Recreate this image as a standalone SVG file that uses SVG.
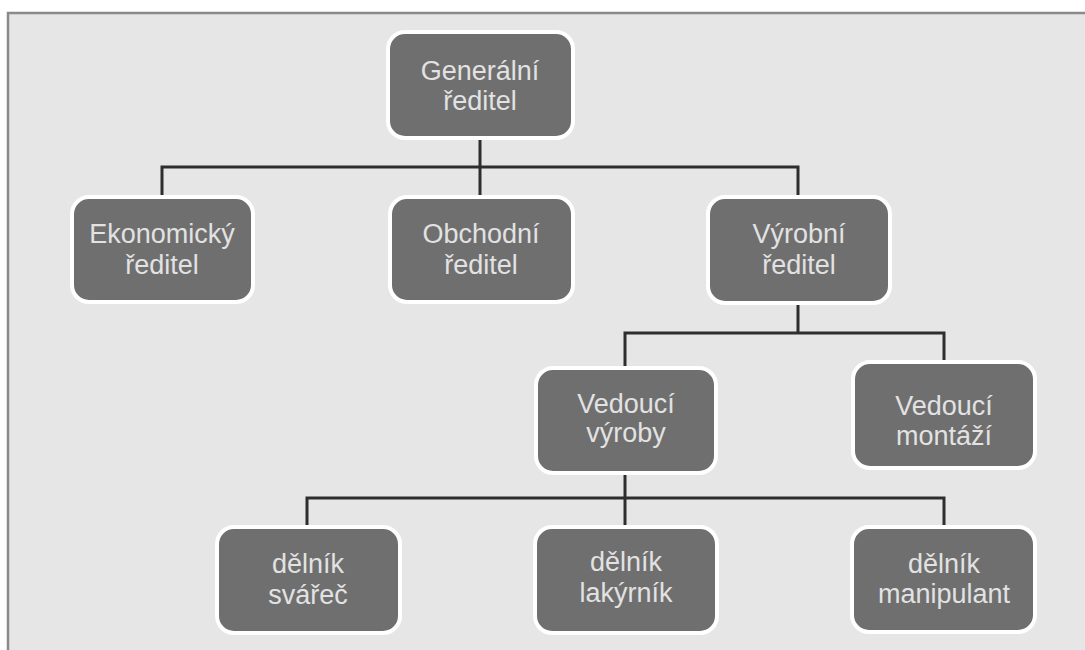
<svg xmlns="http://www.w3.org/2000/svg" width="1085" height="650" viewBox="0 0 1085 650">
<style>
.box{fill:#6f6f6f;stroke:#ffffff;stroke-width:4}
.t{font-family:"Liberation Sans",Arial,sans-serif;font-size:27px;fill:#e2e2e2;text-anchor:middle}
.c{fill:none;stroke:#2e2e2e;stroke-width:3}
</style>
<rect x="0" y="0" width="1085" height="650" fill="#ffffff"/>
<rect x="8" y="13" width="1090" height="660" fill="#e6e6e6" stroke="#8a8a8a" stroke-width="2.5"/>
<g id="connectors">
<path class="c" d="M480 138V167M162 197V167H798V197M480 167V197"/>
<path class="c" d="M798 303V333M625 368V333H944V362"/>
<path class="c" d="M625 473V498M307 527V498H944V527M625 498V527"/>
</g>
<g id="n-general"><rect class="box" x="388" y="32" width="185" height="106" rx="17"/><text class="t" x="480" y="80">Generální</text><text class="t" x="480" y="110">ředitel</text></g>
<g id="n-ekonomicky"><rect class="box" x="72" y="197" width="181" height="105" rx="17"/><text class="t" x="162" y="243">Ekonomický</text><text class="t" x="162" y="274">ředitel</text></g>
<g id="n-obchodni"><rect class="box" x="390" y="197" width="183" height="105" rx="17"/><text class="t" x="481" y="243">Obchodní</text><text class="t" x="481" y="274">ředitel</text></g>
<g id="n-vyrobni"><rect class="box" x="708" y="197" width="182" height="106" rx="17"/><text class="t" x="799" y="243">Výrobní</text><text class="t" x="799" y="274">ředitel</text></g>
<g id="n-ved-vyroby"><rect class="box" x="536" y="368" width="180" height="105" rx="17"/><text class="t" x="626" y="413">Vedoucí</text><text class="t" x="626" y="442">výroby</text></g>
<g id="n-ved-montazi"><rect class="box" x="853" y="362" width="182" height="106" rx="17"/><text class="t" x="944" y="415">Vedoucí</text><text class="t" x="944" y="445">montáží</text></g>
<g id="n-svarec"><rect class="box" x="217" y="527" width="183" height="106" rx="17"/><text class="t" x="308" y="573">dělník</text><text class="t" x="308" y="604">svářeč</text></g>
<g id="n-lakyrnik"><rect class="box" x="535" y="527" width="182" height="106" rx="17"/><text class="t" x="626" y="571">dělník</text><text class="t" x="626" y="602">lakýrník</text></g>
<g id="n-manipulant"><rect class="box" x="852" y="527" width="183" height="105" rx="17"/><text class="t" x="944" y="573">dělník</text><text class="t" x="944" y="603">manipulant</text></g>
</svg>
